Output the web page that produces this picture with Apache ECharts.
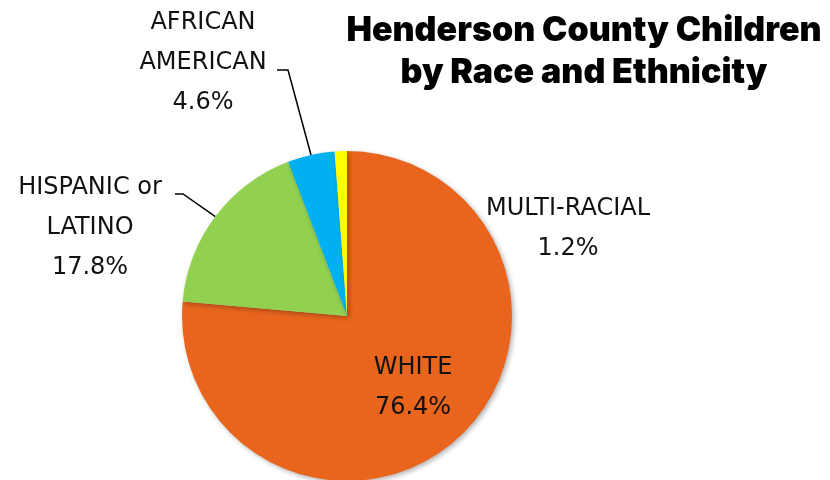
<!DOCTYPE html>
<html><head><meta charset="utf-8">
<script src="https://cdn.jsdelivr.net/npm/echarts@6/dist/echarts.min.js"></script>
<style>html,body{margin:0;padding:0;background:#fff}#c{width:830px;height:480px}</style>
</head><body><div id="c"></div>
<script>
const categories = ['WHITE', 'HISPANIC or\nLATINO', 'AFRICAN\nAMERICAN', 'MULTI-RACIAL'];
const values = [76.4, 17.8, 4.6, 1.2];
const colors = ['#E9651E', '#92D050', '#00B0F0', '#FFFF00'];

// label placement (centre of text block) and leader-line elbows
const labelPlace = [
  {x: 413, y: 388, line: null},
  {x: 90, y: 228, line: [[183, 194], [175, 194]]},
  {x: 203, y: 63, line: [[288, 70], [277, 70]]},
  {x: 568, y: 229, line: null}
];

const chart = echarts.init(document.getElementById('c'), null, {renderer: 'canvas'});
chart.setOption({
  animation: false,
  title: {
    text: 'Henderson County Children\nby Race and Ethnicity',
    left: 579, top: 5,
    textAlign: 'center',
    textStyle: {fontFamily: 'Inter', fontWeight: 900, fontSize: 34, lineHeight: 42, color: '#000'}
  },
  series: [{
    type: 'pie',
    center: [347, 316],
    radius: 165,
    startAngle: 90,
    clockwise: true,
    itemStyle: {borderWidth: 0, shadowBlur: 5, shadowColor: 'rgba(0,0,0,0.3)', shadowOffsetX: 2, shadowOffsetY: 2},
    label: {
      show: true,
      position: 'outside',
      formatter: p => p.name + '\n' + p.value.toFixed(1) + '%',
      fontFamily: 'DejaVu Sans',
      fontSize: 24,
      lineHeight: 40,
      color: '#111',
      align: 'center'
    },
    labelLine: {show: true, length: 10, length2: 10, lineStyle: {color: '#000', width: 1.5}},
    labelLayout: function (params) {
      const p = labelPlace[params.dataIndex];
      const out = {x: p.x, y: p.y, align: 'center', verticalAlign: 'middle'};
      if (p.line && params.labelLinePoints) {
        out.labelLinePoints = [params.labelLinePoints[0], p.line[0], p.line[1]];
      }
      return out;
    },
    data: categories.map((c, i) => ({
      name: c, value: values[i],
      itemStyle: {color: colors[i]},
      labelLine: {show: !!labelPlace[i].line}
    }))
  }]
});
</script></body></html>
